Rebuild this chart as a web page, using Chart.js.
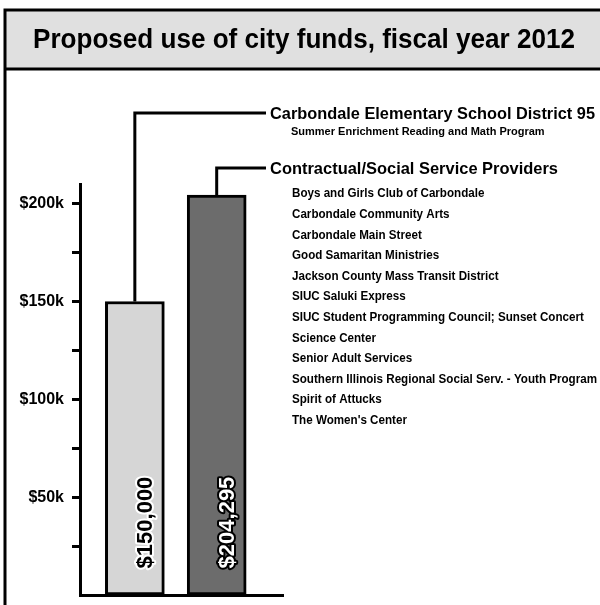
<!DOCTYPE html>
<html>
<head>
<meta charset="utf-8">
<script src="https://cdn.jsdelivr.net/npm/chart.js@4"></script>
<style>
  html, body { margin: 0; padding: 0; background: #fff; overflow: hidden; }
  #wrap { position: relative; width: 600px; height: 605px; overflow: hidden; }
</style>
</head>
<body>
<div id="wrap"><canvas id="fundsChart" width="600" height="613"></canvas></div>
<script>
const title = 'Proposed use of city funds, fiscal year 2012';
const categories = ['Carbondale Elementary School District 95', 'Contractual/Social Service Providers'];
const amounts = [150000, 204295];
const amountLabels = ['$150,000', '$204,295'];
const schoolPrograms = ['Summer Enrichment Reading and Math Program'];
const providerPrograms = [
    'Boys and Girls Club of Carbondale',
    'Carbondale Community Arts',
    'Carbondale Main Street',
    'Good Samaritan Ministries',
    'Jackson County Mass Transit District',
    'SIUC Saluki Express',
    'SIUC Student Programming Council; Sunset Concert',
    'Science Center',
    'Senior Adult Services',
    'Southern Illinois Regional Social Serv. - Youth Program',
    'Spirit of Attucks',
    "The Women's Center"
];
const tickValues = [0, 25000, 50000, 75000, 100000, 125000, 150000, 175000, 200000];
const labelledTicks = [50000, 100000, 150000, 200000];

const FONT = "'Liberation Sans', Arial, sans-serif";

// draws text squeezed horizontally by sx
function squeezed(ctx, text, x, y, sx) {
    ctx.save();
    ctx.translate(x, y);
    ctx.scale(sx, 1);
    ctx.fillText(text, 0, 0);
    ctx.restore();
}

const annotate = {
    id: 'annotate',
    afterDraw(chart) {
        const ctx = chart.ctx;
        const bars = chart.getDatasetMeta(0).data;
        ctx.save();

        // title band + frame
        ctx.fillStyle = '#e0e0e0';
        ctx.fillRect(5, 10, 600, 59);
        ctx.strokeStyle = '#000';
        ctx.lineWidth = 3;
        ctx.beginPath();
        ctx.moveTo(5, 10); ctx.lineTo(600, 10);
        ctx.moveTo(5, 69); ctx.lineTo(600, 69);
        ctx.moveTo(5, 8.5); ctx.lineTo(5, chart.height);
        ctx.stroke();

        ctx.fillStyle = '#000';
        ctx.textAlign = 'left';
        ctx.textBaseline = 'alphabetic';
        ctx.font = 'bold 28px ' + FONT;
        ctx.fillText(title, 33, 48, 542);

        // leader lines from bar tops to headings
        const leaderY = [113, 168];
        const headWidth = [325, 288];
        ctx.lineWidth = 3;
        bars.forEach((bar, i) => {
            ctx.beginPath();
            ctx.moveTo(bar.x, bar.y);
            ctx.lineTo(bar.x, leaderY[i]);
            ctx.lineTo(266, leaderY[i]);
            ctx.stroke();

            ctx.font = 'bold 17px ' + FONT;
            ctx.textBaseline = 'middle';
            ctx.fillText(categories[i], 270, leaderY[i] + 1, headWidth[i]);
        });

        // program lists
        ctx.textBaseline = 'middle';
        ctx.font = 'bold 11px ' + FONT;
        schoolPrograms.forEach((p, j) => {
            ctx.fillText(p, 291, 132 + j * 20.6, 274);
        });
        ctx.font = 'bold 12px ' + FONT;
        const longest = providerPrograms.reduce((a, b) => a.length > b.length ? a : b);
        const sx = Math.min(1, 305 / ctx.measureText(longest).width);
        providerPrograms.forEach((p, j) => {
            squeezed(ctx, p, 292, 194 + j * 20.6, sx);
        });

        // value labels inside the bars, rotated
        ctx.font = 'bold 22px ' + FONT;
        ctx.textAlign = 'left';
        ctx.textBaseline = 'middle';
        ctx.lineJoin = 'round';
        bars.forEach((bar, i) => {
            ctx.save();
            ctx.translate(bar.x + 11, chart.chartArea.bottom - 27);
            ctx.rotate(-Math.PI / 2);
            ctx.lineWidth = 4;
            ctx.strokeStyle = i === 0 ? '#fff' : '#000';
            ctx.fillStyle = i === 0 ? '#000' : '#fff';
            ctx.strokeText(amountLabels[i], 0, 0, 93);
            ctx.fillText(amountLabels[i], 0, 0, 93);
            ctx.restore();
        });

        ctx.restore();
    }
};

new Chart(document.getElementById('fundsChart'), {
    type: 'bar',
    data: {
        labels: categories,
        datasets: [{
            data: amounts.map((v, i) => ({ x: i + 1, y: v })),
            backgroundColor: ['#d6d6d6', '#6c6c6c'],
            borderColor: '#000',
            borderWidth: 3,
            borderSkipped: false,
            barThickness: 59
        }]
    },
    options: {
        responsive: false,
        animation: false,
        layout: { padding: { left: 0, top: 184, right: 317, bottom: 0 } },
        plugins: {
            legend: { display: false },
            tooltip: { enabled: false }
        },
        scales: {
            x: {
                type: 'linear',
                offset: false,
                min: 0.33,
                max: 2.81,
                grid: { display: false, offset: false },
                ticks: { display: false },
                border: { color: '#000', width: 3 },
                afterFit: scale => { scale.height = 0; }
            },
            y: {
                min: 0,
                max: 210000,
                afterBuildTicks: scale => { scale.ticks = tickValues.map(v => ({ value: v })); },
                ticks: {
                    padding: 8,
                    color: '#000',
                    autoSkip: false,
                    font: { family: FONT, size: 16, weight: 'bold' },
                    callback: v => labelledTicks.includes(v) ? '$' + v / 1000 + 'k' : ''
                },
                grid: {
                    drawOnChartArea: false,
                    tickLength: 8,
                    tickWidth: 3,
                    tickColor: c => c.tick && c.tick.value > 0 ? '#000' : 'rgba(0,0,0,0)'
                },
                border: { color: '#000', width: 3 },
                afterFit: scale => { scale.width = 80; }
            }
        }
    },
    plugins: [annotate]
});
</script>
</body>
</html>
